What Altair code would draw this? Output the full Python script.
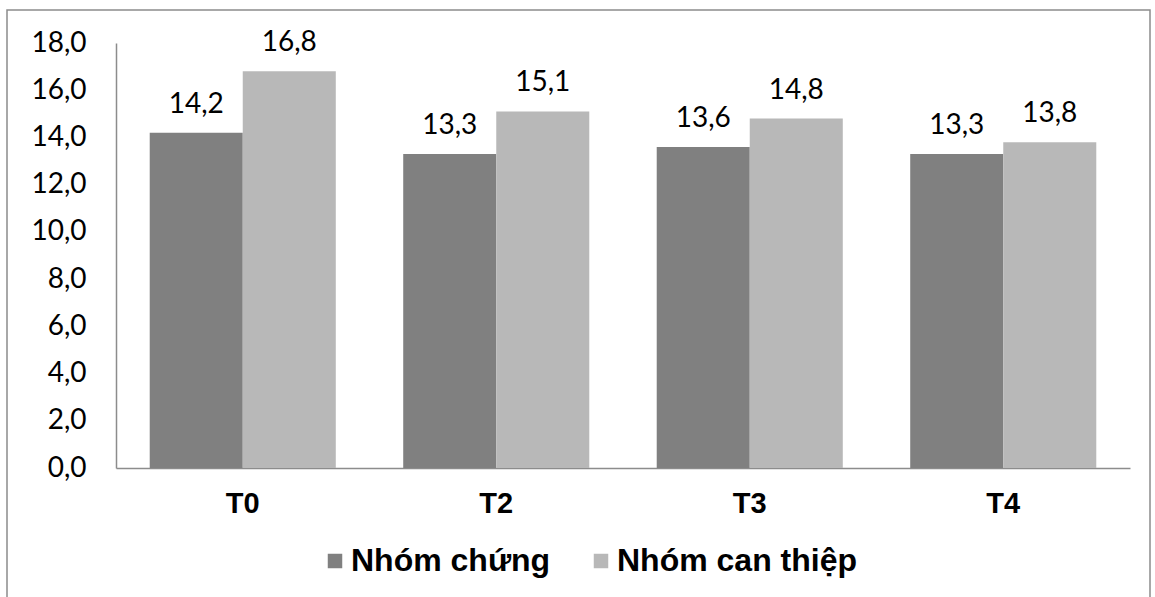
import altair as alt
import pandas as pd

timepoints = ["T0", "T2", "T3", "T4"]
groups = ["Nhóm chứng", "Nhóm can thiệp"]
nhom_chung = [14.2, 13.3, 13.6, 13.3]
nhom_can_thiep = [16.8, 15.1, 14.8, 13.8]
y_ticks = [0, 2, 4, 6, 8, 10, 12, 14, 16, 18]

rows = []
for i, t in enumerate(timepoints):
    rows.append({"time": t, "group": groups[0], "value": nhom_chung[i]})
    rows.append({"time": t, "group": groups[1], "value": nhom_can_thiep[i]})
df = pd.DataFrame(rows)

fmt = "replace(format(datum.value, '.1f'), '.', ',')"

base = alt.Chart(df).encode(
    x=alt.X(
        "time:N",
        sort=timepoints,
        scale=alt.Scale(paddingInner=0.266, paddingOuter=0.133),
        axis=alt.Axis(
            title=None, labelAngle=0, labelFont="Liberation Sans",
            labelFontWeight="bold", labelFontSize=29, labelColor="black",
            labelPadding=21, ticks=False, domainColor="#8c8c8c", domainWidth=1.5,
        ),
    ),
    xOffset=alt.XOffset("group:N", sort=groups,
                        scale=alt.Scale(paddingInner=0, paddingOuter=0)),
)

bars = base.mark_bar().encode(
    y=alt.Y(
        "value:Q",
        scale=alt.Scale(domain=[0, 18], nice=False),
        axis=alt.Axis(
            values=y_ticks, title=None, grid=False, ticks=False,
            labelExpr=fmt, labelFont="Lato", labelFontSize=28,
            labelColor="black", labelPadding=30,
            domainColor="#8c8c8c", domainWidth=1.5,
        ),
    ),
    color=alt.Color(
        "group:N", sort=groups,
        scale=alt.Scale(domain=groups, range=["#808080", "#b8b8b8"]),
        legend=alt.Legend(
            title=None, orient="none", legendX=203, legendY=502,
            direction="horizontal", symbolType="square", symbolSize=210,
            symbolStrokeWidth=0, labelFont="Liberation Sans",
            labelFontWeight="bold", labelFontSize=32, labelColor="black",
            columnPadding=34, labelOffset=0, padding=0, labelLimit=0,
        ),
    ),
)

labels = base.transform_calculate(
    label="replace(format(datum.value, '.1f'), '.', ',')"
).mark_text(
    dy=-20, baseline="alphabetic", font="Lato", fontSize=28, color="black"
).encode(y="value:Q", text="label:N")

frame = alt.Chart(pd.DataFrame({"f": [0]})).mark_rect(
    fill="transparent", stroke="#8c8c8c", strokeWidth=1.5
).encode(
    x=alt.value(-109), x2=alt.value(1034),
    y=alt.value(-33), y2=alt.value(580),
)

chart = alt.layer(frame, bars, labels).properties(
    width=1014, height=425,
    padding={"left": 116, "top": 43, "right": 25, "bottom": 129},
    autosize="none",
).configure_view(strokeWidth=0)

chart.save("out.html", embed_options={"renderer": "svg", "actions": False})
